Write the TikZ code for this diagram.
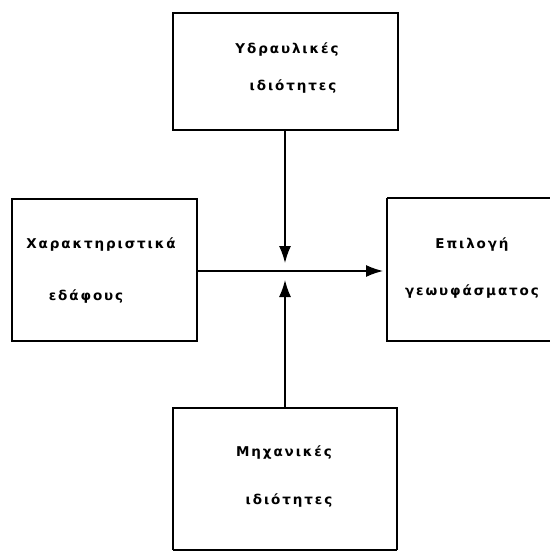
\documentclass[tikz,border=0pt]{standalone}
\usepackage{fontspec}
\setmainfont{DejaVu Sans}[LetterSpace=14]
\usetikzlibrary{arrows.meta}
\begin{document}
\begin{tikzpicture}[x=1pt,y=-1pt,
  box/.style={draw, line width=1.6pt},
  lbl/.style={font=\fontsize{13.5}{40}\selectfont\bfseries, align=center, text=black},
  arr/.style={line width=1.4pt, -{Latex[length=17pt,width=12pt]}}]
\useasboundingbox (0,0) rectangle (549,551);
% boxes
\draw[box] (173,13) rectangle (398,130);
\draw[box] (12,199) rectangle (197,341);
\draw[box] (387,198) -- (387,341) -- (560,341);
\draw[box] (387,198) -- (560,198);
\draw[box] (173,550) -- (173,408) -- (397,408) -- (397,550);
\draw[box] (173,550) -- (397,550);
% named anchors
\coordinate (topb) at (285,130);
\coordinate (botb) at (285,408);
\coordinate (leftb) at (197,271);
\coordinate (rightb) at (383,271);
\coordinate (tipd) at (285,263);
\coordinate (tipu) at (285,280);
% texts
\node[lbl] (t1) at (287,50) {Υδραυλικές};
\node[lbl] (t2) at (293,87) {ιδιότητες};
\node[lbl] (l1) at (101,245) {Χαρακτηριστικά};
\node[lbl] (l2) at (86,297) {εδάφους};
\node[lbl] (r1) at (472,245) {Επιλογή};
\node[lbl] (r2) at (472,292) {γεωυφάσματος};
\node[lbl] (b1) at (284,452) {Μηχανικές};
\node[lbl] (b2) at (289,500) {ιδιότητες};
% connectors
\draw[arr] (topb) -- (tipd);
\draw[arr] (botb) -- (tipu);
\draw[arr] (leftb) -- (rightb);
\end{tikzpicture}
\end{document}
